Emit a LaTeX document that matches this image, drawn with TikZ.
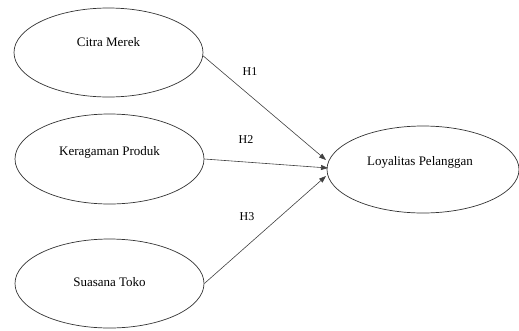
\documentclass[tikz,border=0pt]{standalone}
\usepackage{fontspec}
\setmainfont{Liberation Serif}
\usetikzlibrary{arrows.meta,shapes.geometric}
\begin{document}
\begin{tikzpicture}[x=1pt,y=-1pt,
  var/.style={draw=black!80, line width=0.7pt, ellipse, inner sep=0pt},
  conn/.style={draw=black!75, line width=0.6pt, -{Triangle[length=7pt,width=5pt]}},
  txt/.style={font=\fontsize{13}{15}\selectfont, inner sep=0pt},
  hlab/.style={font=\fontsize{12}{14}\selectfont, inner sep=0pt}]
\useasboundingbox (0,0) rectangle (519,330);
\node[var, minimum width=189pt, minimum height=89pt] (a) at (108.5,52.5) {};
\node[txt] (at) at (108.5,42) {Citra Merek};
\node[var, minimum width=189pt, minimum height=90pt] (b) at (109.5,159) {};
\node[txt] (bt) at (109.5,152) {Keragaman Produk};
\node[var, minimum width=189pt, minimum height=89pt] (c) at (109.5,283.5) {};
\node[txt] (ct) at (109.5,282) {Suasana Toko};
\node[var, minimum width=192pt, minimum height=87pt] (d) at (423,169.5) {};
\node[txt] (dt) at (420,162) {Loyalitas Pelanggan};
\coordinate (e1) at (326,160);
\coordinate (e2) at (328,168);
\coordinate (e3) at (326,176);
\draw[conn] (a.-2) -- (e1);
\draw[conn] (b.east) -- (e2);
\draw[conn] (c.east) -- (e3);
\node[hlab] (h1) at (250,72) {H1};
\node[hlab] (h2) at (246,140) {H2};
\node[hlab] (h3) at (247,217) {H3};
\end{tikzpicture}
\end{document}
